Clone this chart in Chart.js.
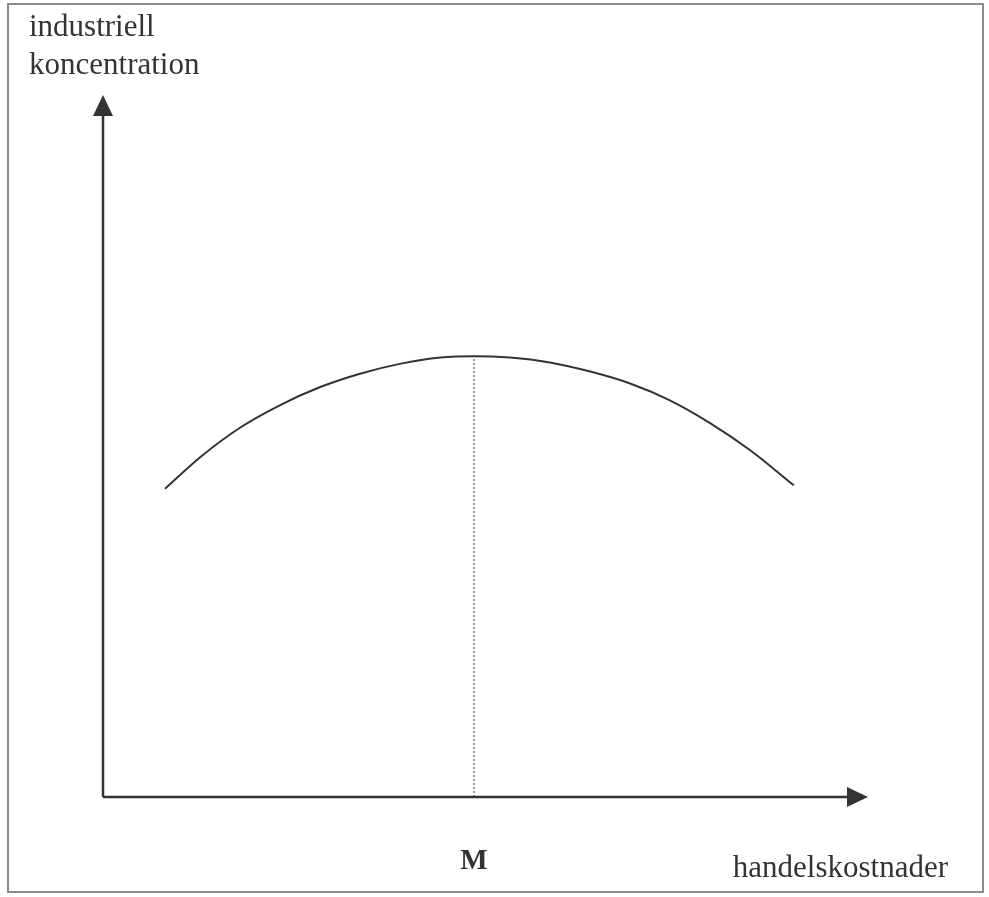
<!DOCTYPE html>
<html>
<head>
<meta charset="utf-8">
<script src="https://cdn.jsdelivr.net/npm/chart.js@4/dist/chart.umd.min.js"></script>
<style>
	html, body { margin: 0; padding: 0; background: #fff; }
	#wrap { width: 989px; height: 897px; }
</style>
</head>
<body>
<div id="wrap"><canvas id="chart" width="989" height="897"></canvas></div>
<script>
// curve (x: trade costs, y: industrial concentration, 0..100 units)
var curveX = [8.1, 12.7, 17.9, 23.1, 28.4, 33.6, 38.8, 44.1, 48.5, 53.2, 58.4, 63.7, 68.9, 74.1, 79.3, 84.6, 90.3]
var curveY = [43.9, 48.4, 52.6, 55.8, 58.4, 60.3, 61.7, 62.6, 62.8, 62.6, 61.9, 60.6, 58.9, 56.5, 53.3, 49.4, 44.4]
var peakX = [48.5, 48.5]
var peakY = [0, 62.8]
var tickLabels = ["M"]
var yTitle = ["industriell", "koncentration"]
var xTitle = "handelskostnader"

var ink = "#333"
var serif = "'Liberation Serif', 'DejaVu Serif', serif"

var diagramPlugin = {
	id: 'diagram',
	beforeDraw: function(chart){
		const ctx = chart.ctx;
		ctx.save();
		ctx.fillStyle = "#fff";
		ctx.fillRect(0, 0, chart.width, chart.height);
		ctx.strokeStyle = "#8c8c8c";
		ctx.lineWidth = 2;
		ctx.strokeRect(8, 4, 975, 888);
		ctx.restore();
	},
	afterDraw: function(chart){
		const ctx = chart.ctx;
		const xs = chart.scales.x, ys = chart.scales.y;
		const x0 = xs.getPixelForValue(0), y0 = ys.getPixelForValue(0);
		const xEnd = xs.getPixelForValue(100), yEnd = ys.getPixelForValue(100);
		ctx.save();
		ctx.strokeStyle = ink;
		ctx.fillStyle = ink;
		ctx.lineWidth = 2.5;
		ctx.beginPath();
		ctx.moveTo(x0, y0);
		ctx.lineTo(xEnd - 16, y0);
		ctx.moveTo(x0, y0);
		ctx.lineTo(x0, yEnd + 16);
		ctx.stroke();
		// arrow heads
		ctx.beginPath();
		ctx.moveTo(x0, yEnd);
		ctx.lineTo(x0 - 10, yEnd + 21);
		ctx.lineTo(x0 + 10, yEnd + 21);
		ctx.closePath();
		ctx.fill();
		ctx.beginPath();
		ctx.moveTo(xEnd, y0);
		ctx.lineTo(xEnd - 21, y0 - 10);
		ctx.lineTo(xEnd - 21, y0 + 10);
		ctx.closePath();
		ctx.fill();

		ctx.textBaseline = "alphabetic";
		ctx.font = "31px " + serif;
		ctx.textAlign = "left";
		ctx.fillText(yTitle[0], 29, 36);
		ctx.fillText(yTitle[1], 29, 74);
		ctx.textAlign = "right";
		ctx.fillText(xTitle, 948, 877);
		ctx.font = "bold 29px " + serif;
		ctx.textAlign = "center";
		ctx.fillText(tickLabels[0], xs.getPixelForValue(peakX[0]), 869);
		ctx.restore();
	}
}

new Chart(document.getElementById("chart"), {
	type: 'scatter',
	data: {
		datasets: [{
			data: curveX.map(function(v, i){ return {x: v, y: curveY[i]}; }),
			showLine: true,
			borderColor: ink,
			borderWidth: 2,
			pointRadius: 0,
			cubicInterpolationMode: 'monotone',
			fill: false
		}, {
			data: peakX.map(function(v, i){ return {x: v, y: peakY[i]}; }),
			showLine: true,
			borderColor: "#444",
			borderWidth: 1,
			borderDash: [2, 2],
			pointRadius: 0,
			fill: false
		}]
	},
	options: {
		responsive: false,
		animation: false,
		layout: { padding: { left: 103, right: 121, top: 95, bottom: 100 } },
		plugins: {
			legend: { display: false },
			tooltip: { enabled: false }
		},
		scales: {
			x: { type: 'linear', min: 0, max: 100, display: false },
			y: { type: 'linear', min: 0, max: 100, display: false }
		}
	},
	plugins: [diagramPlugin]
});
</script>
</body>
</html>
